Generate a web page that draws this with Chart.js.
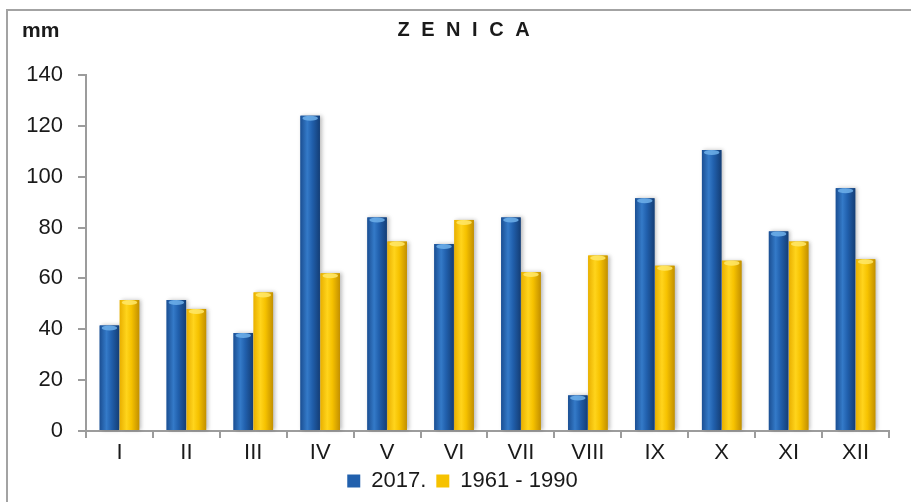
<!DOCTYPE html>
<html>
<head>
<meta charset="utf-8">
<script src="https://cdn.jsdelivr.net/npm/chart.js@4.4.1/dist/chart.umd.min.js"></script>
<style>
  html, body { margin: 0; padding: 0; background: #fff; }
  #wrap { width: 911px; height: 502px; position: relative; }
</style>
</head>
<body>
<div id="wrap"><canvas id="rainChart"></canvas></div>
<script>
// mjesečne oborine, Zenica (mm)
const months = ["I", "II", "III", "IV", "V", "VI", "VII", "VIII", "IX", "X", "XI", "XII"];
const rain2017 = [41.5, 51.5, 38.5, 124, 84, 73.5, 84, 14, 91.5, 110.5, 78.5, 95.5];
const rainNormal = [51.5, 48, 54.5, 62, 74.5, 83, 62.5, 69, 65, 67, 74.5, 67.5];
const seriesNames = ["2017.", "1961 - 1990"];
const yTicks = [0, 20, 40, 60, 80, 100, 120, 140];

const FONT = "'Liberation Sans', Arial, sans-serif";
const AXIS_GREY = "#9c9c9c";

// boje za "cilindrične" stupce: lijevi rub, svijetli dio, desni rub, kapica
const shades = [
  { base: "#2160ad", edgeL: "#1b4f93", light: "#347ac8", edgeR: "#143e76", cap: "#6fb0ea" },
  { base: "#f6c200", edgeL: "#e9b000", light: "#ffd41c", edgeR: "#c39000", cap: "#ffe76a" },
];

const cylinderBars = {
  id: "cylinderBars",
  afterDatasetsDraw(chart) {
    const c = chart.ctx;
    chart.data.datasets.forEach((ds, i) => {
      const meta = chart.getDatasetMeta(i);
      const s = shades[i];
      meta.data.forEach((bar) => {
        const { x, y, base, width } = bar.getProps(["x", "y", "base", "width"], true);
        const left = x - width / 2;
        const h = base - y;
        c.save();
        c.shadowColor = "rgba(60,60,60,0.35)";
        c.shadowBlur = 4;
        c.shadowOffsetX = 2;
        const g = c.createLinearGradient(left, 0, left + width, 0);
        g.addColorStop(0, s.edgeL);
        g.addColorStop(0.35, s.light);
        g.addColorStop(0.6, s.base);
        g.addColorStop(1, s.edgeR);
        c.fillStyle = g;
        c.fillRect(left, y, width, h);
        c.restore();
        // svijetla kapica na vrhu
        c.save();
        c.beginPath();
        c.ellipse(x, y + 2.5, width / 2 - 2, 2.5, 0, 0, Math.PI * 2);
        c.fillStyle = s.cap;
        c.globalAlpha = 0.85;
        c.fill();
        c.restore();
      });
    });
  },
};

const decorations = {
  id: "decorations",
  afterLayout(chart) {
    // legenda malo udesno, kao na originalu
    chart.legend.left += 18;
    chart.legend.right += 18;
  },
  afterDraw(chart) {
    const c = chart.ctx;
    c.save();
    // okvir (samo lijevo i gore vidljivo)
    c.strokeStyle = "#a3a3a3";
    c.lineWidth = 2;
    c.beginPath();
    c.moveTo(7, 502);
    c.lineTo(7, 10);
    c.lineTo(911, 10);
    c.stroke();

    c.fillStyle = "#1a1a1a";
    c.textBaseline = "middle";
    c.font = "bold 21px " + FONT;
    c.textAlign = "left";
    c.fillText("mm", 22, 31);

    c.font = "bold 20px " + FONT;
    c.textAlign = "center";
    if ("letterSpacing" in c) c.letterSpacing = "3px";
    c.fillText("Z E N I C A", 465, 30);
    c.restore();
  },
};

new Chart(document.getElementById("rainChart"), {
  type: "bar",
  data: {
    labels: months,
    datasets: [
      { label: seriesNames[0], data: rain2017, backgroundColor: shades[0].base },
      { label: seriesNames[1], data: rainNormal, backgroundColor: shades[1].base },
    ],
  },
  options: {
    responsive: true,
    maintainAspectRatio: false,
    animation: false,
    layout: { padding: { top: 75, right: 22, left: 0, bottom: 0 } },
    datasets: { bar: { categoryPercentage: 0.6, barPercentage: 0.97 } },
    plugins: {
      title: { display: false },
      tooltip: { enabled: false },
      legend: {
        position: "bottom",
        labels: {
          font: { family: FONT, size: 22 },
          color: "#1a1a1a",
          boxWidth: 13,
          boxHeight: 13,
          padding: 10,
        },
      },
    },
    scales: {
      x: {
        grid: { drawOnChartArea: false, color: AXIS_GREY, tickLength: 7, lineWidth: 2 },
        border: { color: AXIS_GREY, width: 2 },
        ticks: { font: { family: FONT, size: 22 }, color: "#1a1a1a", padding: 2, maxRotation: 0 },
        afterFit(scale) { scale.height = 29; },
      },
      y: {
        min: 0,
        max: 140,
        afterBuildTicks(scale) { scale.ticks = yTicks.map((v) => ({ value: v })); },
        grid: { drawOnChartArea: false, color: AXIS_GREY, tickLength: 8, lineWidth: 2 },
        border: { color: AXIS_GREY, width: 2 },
        ticks: { font: { family: FONT, size: 22 }, color: "#1a1a1a", padding: 15 },
        afterFit(scale) { scale.width = 86; },
      },
    },
  },
  plugins: [cylinderBars, decorations],
});
</script>
</body>
</html>
